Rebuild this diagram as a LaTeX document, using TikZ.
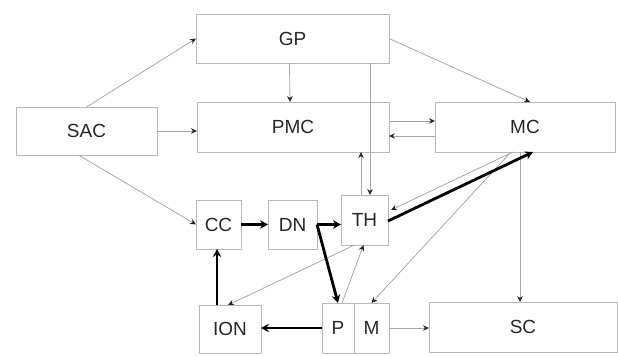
\documentclass[tikz,border=0pt]{standalone}
\usepackage{fontspec}
\setmainfont{Liberation Sans}
\usetikzlibrary{arrows.meta}
\definecolor{boxgray}{gray}{0.72}
\definecolor{wiregray}{gray}{0.66}
\definecolor{inkgray}{gray}{0.15}

\begin{document}
\begin{tikzpicture} [>={Stealth[length=6pt, width=5.5pt]}, x={(1pt,0pt)}, y={(0pt,-1pt)},
    box/.style={draw=boxgray, line width=0.9pt, inner sep=0pt, outer sep=0pt, text=inkgray, font=\fontsize{19}{22}\selectfont},
    thin/.style={wiregray, line width=0.8pt, -{Stealth[length=6pt, width=5.5pt, black!85]}},
    heavy/.style={black, line width=2.8pt, -{Stealth[length=8pt, width=8.5pt]}}]

    \useasboundingbox (0,0) rectangle (618,356);

        % boxes
        \node[box, minimum width=193pt, minimum height=49pt] (GP)  at (292.5,38.5) {GP};
        \node[box, minimum width=192pt, minimum height=50pt] (PMC) at (293,127)   {PMC};
        \node[box, minimum width=141pt, minimum height=48pt] (SAC) at (86.5,131)  {SAC};
        \node[box, minimum width=180pt, minimum height=50pt] (MC)  at (525,127)   {MC};
        \node[box, minimum width=45pt,  minimum height=49pt] (CC)  at (218.5,224.5) {CC};
        \node[box, minimum width=49pt,  minimum height=49pt] (DN)  at (292.5,224.5) {DN};
        \node[box, minimum width=47pt,  minimum height=50pt] (TH)  at (364.5,220) {TH};
        \node[box, minimum width=62pt,  minimum height=48pt] (ION) at (230,329)   {ION};
        \node[box, minimum width=32pt,  minimum height=50pt] (P)   at (338,328)   {P};
        \node[box, minimum width=35pt,  minimum height=50pt] (M)   at (371.5,328) {M};
        \node[box, minimum width=188pt, minimum height=50pt] (SC)  at (523,327)   {SC};

        % helper points for the straight drops
        \coordinate (gpth)  at ([xshift=5.5pt]TH.north);
        \coordinate (thpmc) at ([xshift=-3.5pt]TH.north);
        \coordinate (mcsc)  at ([xshift=-5pt]MC.south);
        \coordinate (ioncc) at ([xshift=-13pt]ION.north);

        % thin connections
        \draw [thin] (SAC.north) -- (GP.west);
        \draw [thin] (SAC.east) -- (SAC.east -| PMC.west);
        \draw [thin] ([xshift=-8pt]SAC.south) -- (CC.west);
        \draw [thin] ([xshift=-3pt]GP.south) -- ([xshift=-3pt]PMC.north);
        \draw [thin] (GP.south -| gpth) -- (gpth);
        \draw [thin] (thpmc) -- (PMC.south -| thpmc);
        \draw [thin] (GP.east) -- ([xshift=5pt]MC.north);
        \draw [thin] ([yshift=6pt]PMC.east) -- ([yshift=6pt]MC.west);
        \draw [thin] ([yshift=-9pt]MC.west) -- ([yshift=-9pt]PMC.east);
        \draw [thin] ([xshift=-12pt]MC.south) -- ([xshift=3pt,yshift=10pt]TH.east);
        \draw [thin] ([xshift=-14pt]MC.south) -- (M.north);
        \draw [thin] (mcsc) -- (SC.north -| mcsc);
        \draw [thin] ([xshift=4pt]P.north) -- ([xshift=-1pt]TH.south);
        \draw [thin] ([xshift=-10pt]TH.south) -- ([xshift=-2pt]ION.north);
        \draw [thin] (M.east) -- (M.east -| SC.west);

        % heavy connections
        \draw [heavy] (CC.east) -- (DN.west);
        \draw [heavy] (DN.east) -- (DN.east -| TH.west);
        \draw [heavy] (DN.east) -- (P.north);
        \draw [heavy] ([yshift=-1pt]TH.east) -- ([xshift=8pt]MC.south);
        \draw [heavy] (ioncc) -- (CC.south -| ioncc);
        \draw [heavy] (P.west) -- (P.west -| ION.east);

    \end{tikzpicture}
\end{document}
